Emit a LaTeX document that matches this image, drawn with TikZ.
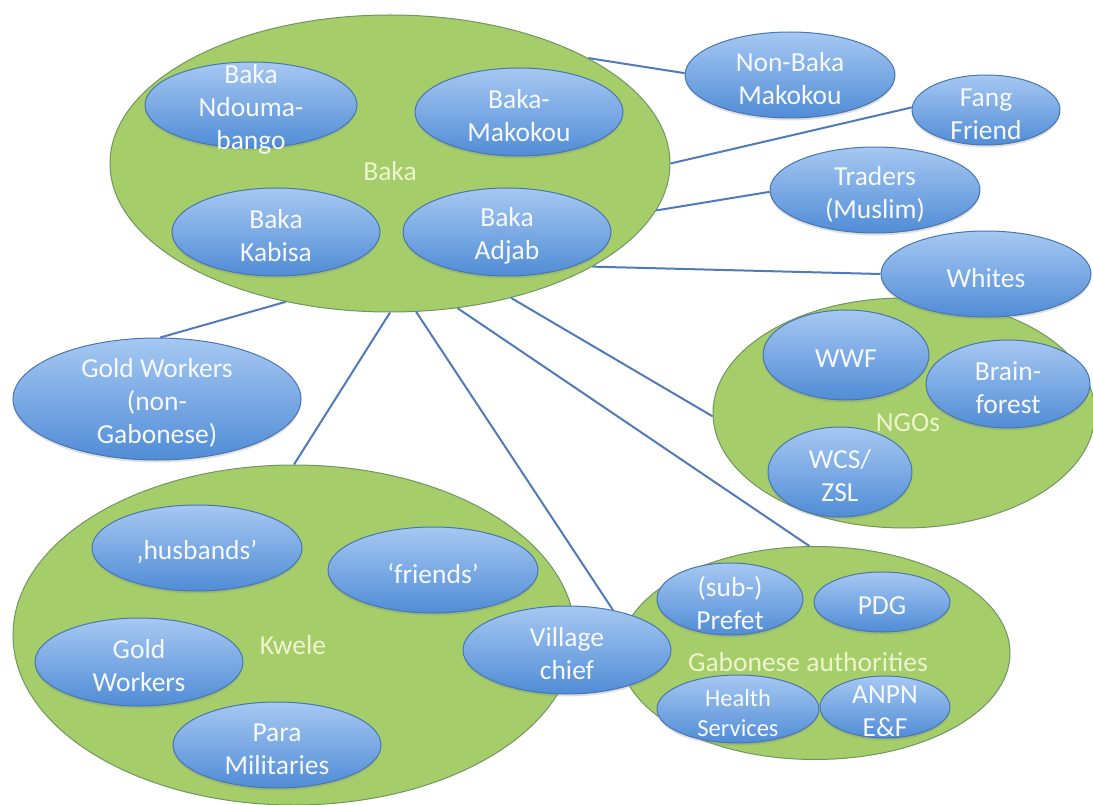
\documentclass[tikz,border=0pt]{standalone}
\usepackage{fontspec}
\setmainfont{Carlito}
\usetikzlibrary{shapes.geometric,shadows}

\definecolor{leaf}{RGB}{165,205,105}
\definecolor{leafedge}{RGB}{112,150,96}
\definecolor{leaftext}{RGB}{238,244,205}
\definecolor{skytop}{RGB}{166,200,242}
\definecolor{skybot}{RGB}{80,140,214}
\definecolor{skyedge}{RGB}{72,118,178}
\definecolor{linkblue}{RGB}{80,122,185}
\definecolor{memwhite}{RGB}{246,249,255}

\tikzset{
  grp/.style={ellipse, draw=leafedge, line width=1pt, fill=leaf, inner sep=0pt},
  member/.style={ellipse, draw=skyedge, line width=1pt, top color=skytop,
    bottom color=skybot, inner sep=0pt,
    drop shadow={opacity=0.25, shadow xshift=0pt, shadow yshift=-2.5pt}},
  grptext/.style={text=leaftext, font=\fontsize{27.5}{33}\selectfont,
    align=center, inner sep=0pt, yshift=-3pt},
  memtext/.style={text=memwhite, font=\fontsize{27.5}{33}\selectfont,
    align=center, inner sep=0pt, yshift=-4pt},
  smalltext/.style={memtext, font=\fontsize{24.5}{30}\selectfont},
  link/.style={draw=linkblue, line width=2pt},
}

% \bubble{shape style}{name}{x}{y}{rx}{ry}{text style}{text}
\newcommand\bubble[8]{%
  \node[#1, minimum width=2*#5pt, minimum height=2*#6pt] (#2) at (#3,#4) {};
  \node[#7] (#2-t) at (#2.center) {#8};}

\begin{document}
\begin{tikzpicture}[x=1pt, y=-1pt]
\fill[white] (0,0) rectangle (1093,805);
\useasboundingbox (0,0) rectangle (1093,805);

% Baka group
\node[grp, minimum width=560pt, minimum height=297pt] (baka) at (390,163.5) {};
\node[grptext] (baka-t) at (390,168) {Baka};
\bubble{member}{ndouma}{251}{105}{106}{43}{memtext}{Baka\\Ndouma-\\bango}
\bubble{member}{bmakokou}{519}{112}{104}{44}{memtext}{Baka-\\Makokou}
\bubble{member}{kabisa}{276}{232}{104}{44}{memtext}{Baka\\Kabisa}
\bubble{member}{adjab}{507}{232}{104}{44}{memtext}{Baka\\Adjab}

% single partners on the right
\bubble{member}{nonbaka}{790}{75}{105}{43}{memtext}{Non-Baka\\Makokou}
\bubble{member}{fang}{986}{110}{74}{35}{memtext}{Fang\\Friend}
\bubble{member}{traders}{875}{190}{105}{43}{memtext}{Traders\\(Muslim)}

% NGOs group
\node[grp, minimum width=382pt, minimum height=230pt] (ngo) at (904,413) {};
\node[grptext] (ngo-t) at (908,420) {NGOs};
\bubble{member}{wwf}{846}{355}{83}{45}{memtext}{WWF}
\bubble{member}{brain}{1008}{384}{82}{44}{memtext}{Brain-\\forest}
\bubble{member}{wcs}{840}{472}{72}{45}{memtext}{WCS/\\ZSL}

\bubble{member}{whites}{986}{274}{105}{43}{memtext}{Whites}

% gold workers outside the groups
\bubble{member}{gold}{157}{399}{144}{61}{memtext}{Gold Workers\\(non-\\Gabonese)}

% Kwele group
\node[grp, minimum width=562pt, minimum height=340pt] (kwele) at (294,635) {};
\node[grptext] (kwele-t) at (293,642) {Kwele};
\bubble{member}{husbands}{197}{548}{105}{43}{memtext}{‚husbands’}
\bubble{member}{friends}{433}{570}{105}{43}{memtext}{‘friends’}
\bubble{member}{kgold}{139}{662}{104}{44}{memtext}{Gold\\Workers}
\bubble{member}{para}{277}{745}{104}{43}{memtext}{Para\\Militaries}

% Gabonese authorities group
\node[grp, minimum width=390pt, minimum height=213pt] (gab) at (815,653) {};
\node[grptext] (gab-t) at (808,659) {Gabonese authorities};
\bubble{member}{prefet}{730}{599}{73}{36}{memtext}{(sub-)\\Prefet}
\bubble{member}{pdg}{882}{602}{68}{30}{memtext}{PDG}
\bubble{member}{health}{738}{709}{81}{34}{smalltext}{Health\\Services}
\bubble{member}{anpn}{885}{707}{65}{31}{memtext}{ANPN\\E\&F}

\bubble{member}{chief}{567}{650}{104}{44}{memtext}{Village\\chief}

% relations of the Baka
\draw[link] (baka.28.6) -- (nonbaka.179);
\draw[link] (baka.0) -- (fang.178.5);
\draw[link] (baka.-10.5) -- (traders.181);
\draw[link] (baka.-27.6) -- (whites.180);
\draw[link] (baka.-48) -- (ngo.181);
\draw[link] (baka.-65.4) -- (gab.93.8);
\draw[link] (baka.-80.5) -- (chief.41);
\draw[link] (baka.-90.5) -- (kwele.90);
\draw[link] (baka.-127) -- (gold.87);
\end{tikzpicture}
\end{document}
